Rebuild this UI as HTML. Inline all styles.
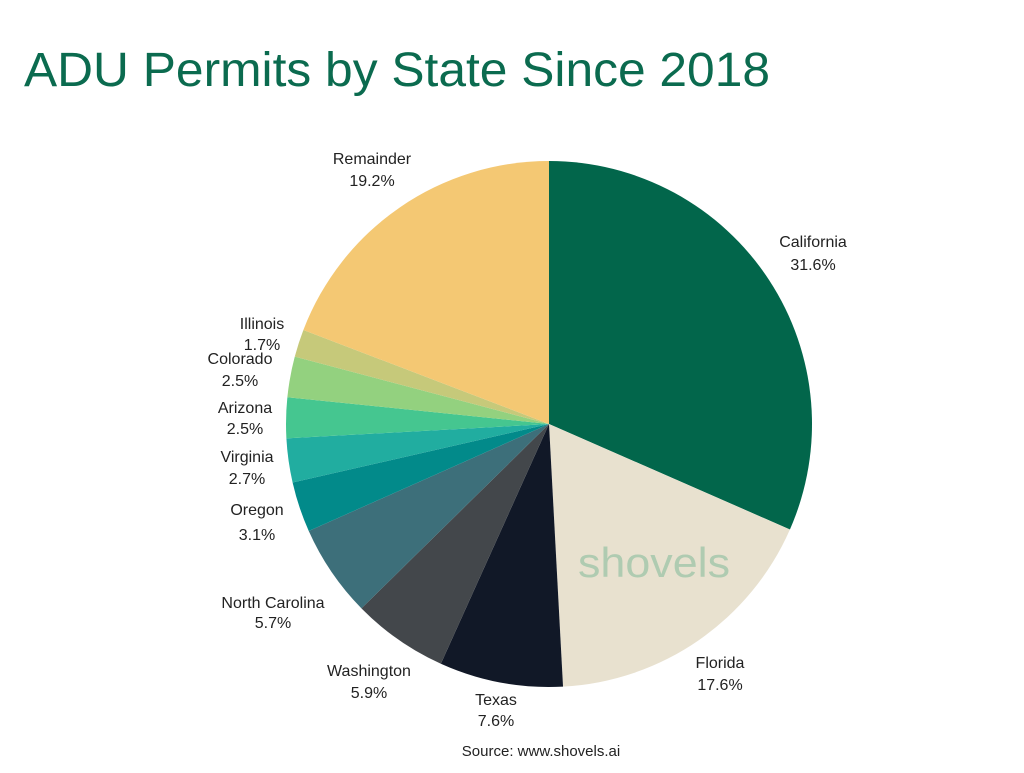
<!DOCTYPE html>
<html><head><meta charset="utf-8"><style>
body{margin:0;background:#fff;width:1024px;height:768px;overflow:hidden;font-family:"Liberation Sans",sans-serif}
</style></head><body>
<svg id="s" width="1024" height="768" xmlns="http://www.w3.org/2000/svg">
<text x="24" y="86" font-size="48" textLength="746" lengthAdjust="spacingAndGlyphs" fill="#0b6b4f" font-family="Liberation Sans, sans-serif">ADU Permits by State Since 2018</text>
<g id="pie"></g>
<text x="578" y="577" font-size="42" textLength="152" lengthAdjust="spacingAndGlyphs" fill="#a9c9ad" fill-opacity="0.9" font-family="Liberation Sans, sans-serif">shovels</text>
<g font-size="16" fill="#222" font-family="Liberation Sans, sans-serif" text-anchor="middle">
<text x="372" y="164">Remainder</text><text x="372" y="186">19.2%</text>
<text x="813" y="247">California</text><text x="813" y="270">31.6%</text>
<text x="720" y="668">Florida</text><text x="720" y="690">17.6%</text>
<text x="496" y="705">Texas</text><text x="496" y="726">7.6%</text>
<text x="369" y="676">Washington</text><text x="369" y="698">5.9%</text>
<text x="273" y="608">North Carolina</text><text x="273" y="628">5.7%</text>
<text x="257" y="515">Oregon</text><text x="257" y="540">3.1%</text>
<text x="247" y="462">Virginia</text><text x="247" y="484">2.7%</text>
<text x="245" y="413">Arizona</text><text x="245" y="434">2.5%</text>
<text x="240" y="364">Colorado</text><text x="240" y="386">2.5%</text>
<text x="262" y="329">Illinois</text><text x="262" y="350">1.7%</text>
<text x="541" y="756" font-size="15">Source: www.shovels.ai</text>
</g>
</svg>
<script>
var d=[[31.6,"#02664b"],[17.6,"#e8e1cf"],[7.6,"#111827"],[5.9,"#43474b"],[5.7,"#3d6f7a"],[3.1,"#028a8a"],[2.7,"#21ada0"],[2.5,"#45c690"],[2.5,"#93d17f"],[1.7,"#c6c97a"],[19.2,"#f4c873"]];
var cx=549,cy=424,r=263,a=0,t=100.1,h="";
d.forEach(function(s){var b=a+s[0]/t*2*Math.PI;
var x1=cx+r*Math.sin(a),y1=cy-r*Math.cos(a),x2=cx+r*Math.sin(b),y2=cy-r*Math.cos(b);
h+='<path d="M'+cx+','+cy+'L'+x1+','+y1+'A'+r+','+r+' 0 '+((b-a)>Math.PI?1:0)+' 1 '+x2+','+y2+'Z" fill="'+s[1]+'"/>';a=b;});
document.getElementById("pie").innerHTML=h;
</script>
</body></html>
